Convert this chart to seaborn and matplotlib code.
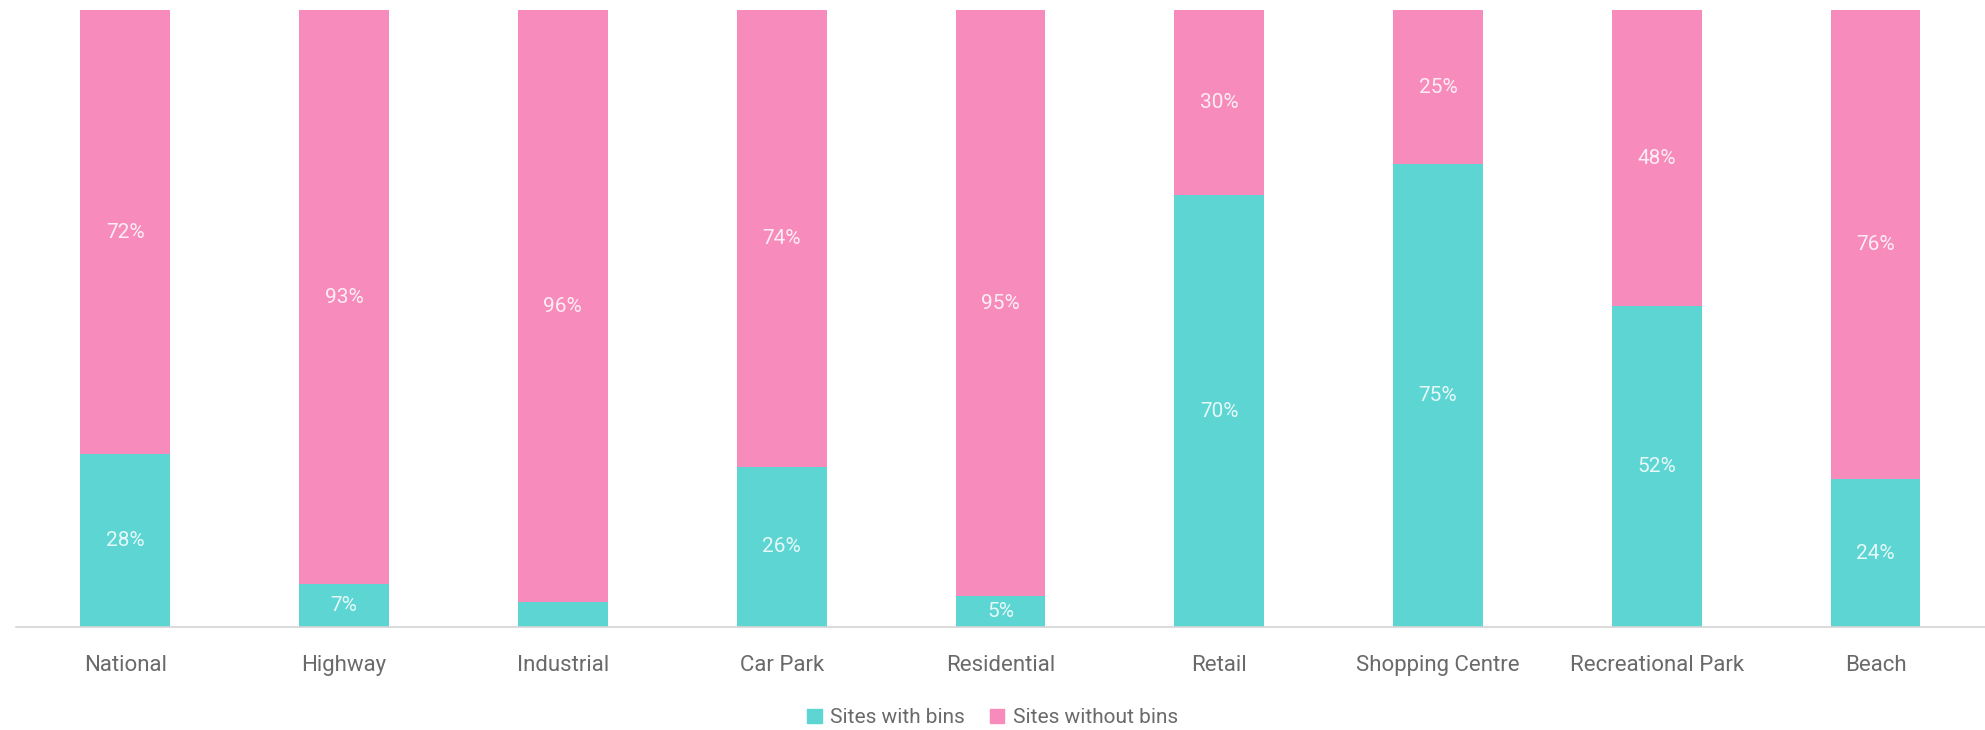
import pandas as pd
import seaborn as sns
import matplotlib.pyplot as plt
from matplotlib.patches import Patch

sns.set_theme(style="white")
plt.rcParams['font.family'] = ['Roboto', 'DejaVu Sans']

categories = ['National', 'Highway', 'Industrial', 'Car Park', 'Residential',
              'Retail', 'Shopping Centre', 'Recreational Park', 'Beach']
with_bins = [28, 7, 4, 26, 5, 70, 75, 52, 24]
without_bins = [72, 93, 96, 74, 95, 30, 25, 48, 76]

teal = '#5dd5d3'
pink = '#f78cbc'

df = pd.DataFrame({'category': categories, 'with': with_bins, 'without': without_bins})
df['total'] = df['with'] + df['without']

fig = plt.figure(figsize=(19.85, 7.3), dpi=100)
ax = fig.add_axes([0.008, 0.141, 0.992, 0.845])

sns.barplot(data=df, x='category', y='total', color=pink, width=0.41,
            saturation=1, linewidth=0, ax=ax)
sns.barplot(data=df, x='category', y='with', color=teal, width=0.41,
            saturation=1, linewidth=0, ax=ax)

# percentage labels in the middle of each segment
for i, row in df.iterrows():
    if row['with'] >= 5:
        ax.text(i, row['with'] / 2, f"{row['with']}%", ha='center', va='center',
                color='white', alpha=0.85, fontsize=15)
    ax.text(i, row['with'] + row['without'] / 2, f"{row['without']}%",
            ha='center', va='center', color='white', alpha=0.85, fontsize=15)

ax.set_xlim(-0.5, 8.5)
ax.set_ylim(0, 100)
ax.set_xlabel('')
ax.set_ylabel('')
ax.set_yticks([])
ax.tick_params(axis='x', length=0, pad=20, labelsize=16, labelcolor='#6a6a6a')
for side in ['top', 'left', 'right']:
    ax.spines[side].set_visible(False)
ax.spines['bottom'].set_color('#d4d4d4')
ax.spines['bottom'].set_linewidth(1.2)

handles = [Patch(color=teal, label='Sites with bins'),
           Patch(color=pink, label='Sites without bins')]
leg = fig.legend(handles=handles, loc='center', bbox_to_anchor=(0.5, 0.017),
                 ncol=2, frameon=False, fontsize=15, handlelength=0.7,
                 handleheight=0.7, handletextpad=0.4, columnspacing=1.2)
for t in leg.get_texts():
    t.set_color('#6a6a6a')

fig.savefig('out.png', dpi=100)
